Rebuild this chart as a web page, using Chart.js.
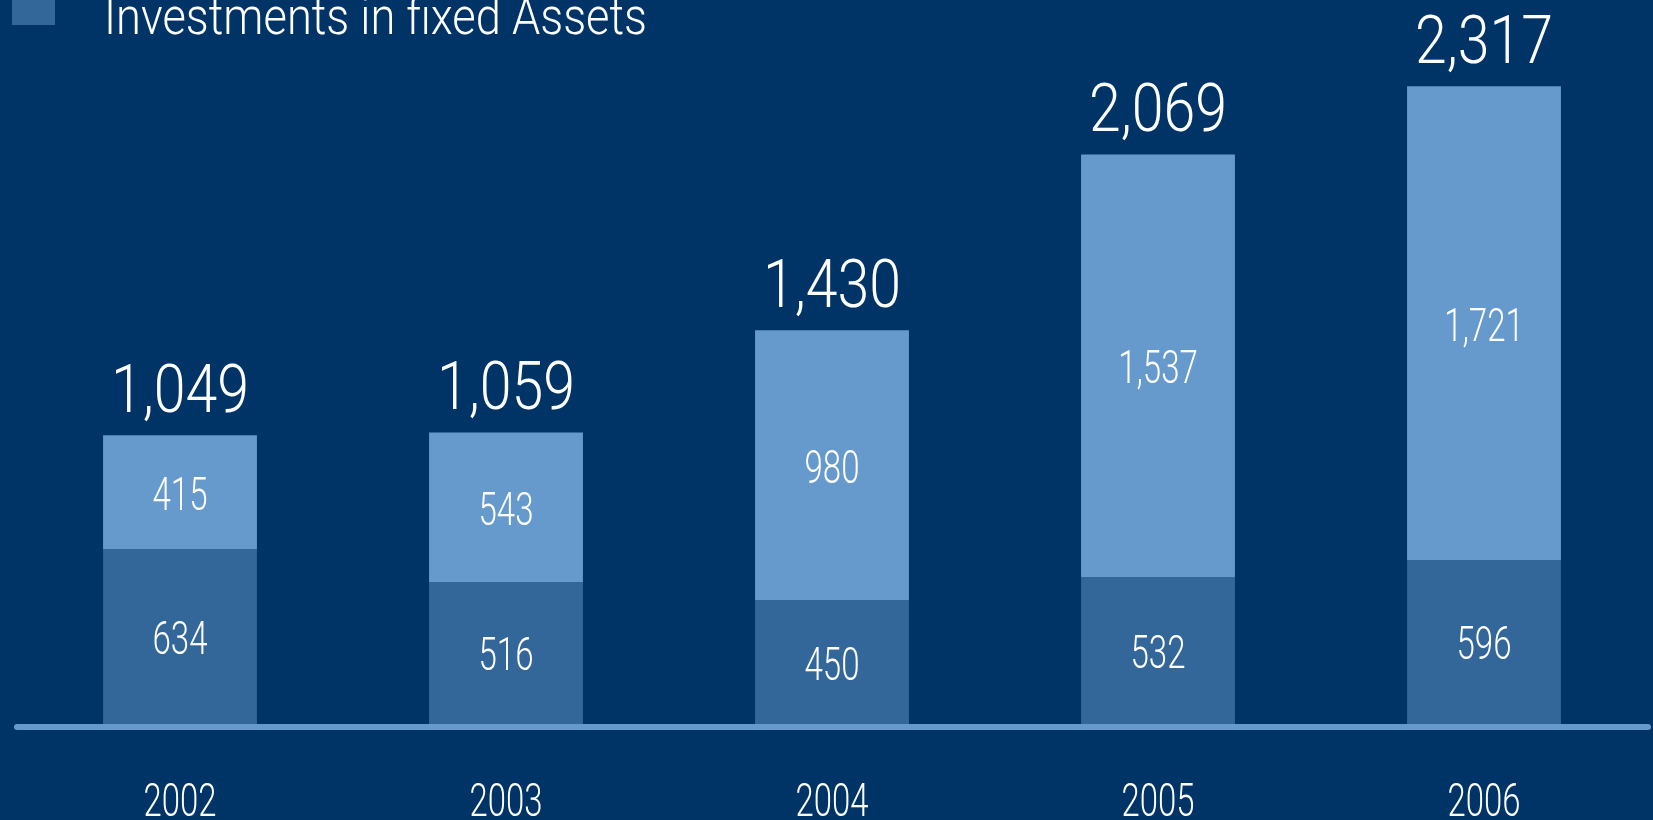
<html>
<head>
  <title>Investments in fixed Assets</title>
  <meta charset="UTF-8">
  <script src="https://cdn.jsdelivr.net/npm/chart.js"></script>
  <style>
    body { margin: 0; background: #003366; overflow: hidden; }
    canvas { display: block; }
  </style>
</head>
<body>
  <canvas id="invest-chart" width="1653" height="820"></canvas>
  <script>
    // values
    const years = ['2002', '2003', '2004', '2005', '2006'];
    const fixedAssets = [634, 516, 450, 532, 596];
    const otherInvest = [415, 543, 980, 1537, 1721];
    const legendText = 'Investments in fixed Assets';

    const darkBlue = '#336699';
    const lightBlue = '#6699cc';
    const fontName = 'Roboto';

    // draw a text squeezed horizontally so it looks like a condensed face
    function squeezed(ctx, str, x, y, font, targetW, refStr) {
      ctx.save();
      ctx.font = font;
      const sx = targetW / ctx.measureText(refStr || str).width;
      ctx.translate(x, y);
      ctx.scale(sx, 1);
      ctx.fillText(str, 0, 0);
      ctx.restore();
    }

    const labelsPlugin = {
      id: 'labelsPlugin',
      afterDatasetsDraw(chart) {
        const ctx = chart.ctx;
        const xs = chart.scales.x;
        const area = chart.chartArea;

        // base line under the bars
        ctx.save();
        ctx.strokeStyle = lightBlue;
        ctx.lineWidth = 6;
        ctx.lineCap = 'round';
        ctx.beginPath();
        ctx.moveTo(xs.left, area.bottom + 3);
        ctx.lineTo(xs.right + 1, area.bottom + 3);
        ctx.stroke();
        ctx.restore();

        ctx.save();
        ctx.fillStyle = '#ffffff';
        ctx.textAlign = 'center';
        ctx.textBaseline = 'middle';

        // values inside the segments
        chart.data.datasets.forEach((ds, di) => {
          const meta = chart.getDatasetMeta(di);
          meta.data.forEach((bar, i) => {
            const mid = (bar.y + bar.base) / 2;
            squeezed(ctx, ds.data[i].toLocaleString('en-US'), bar.x, mid + 6, '300 46px ' + fontName, 55, '415');
          });
        });

        // totals above the bars
        ctx.textBaseline = 'alphabetic';
        const top = chart.getDatasetMeta(chart.data.datasets.length - 1);
        top.data.forEach((bar, i) => {
          const total = chart.data.datasets.reduce((s, ds) => s + ds.data[i], 0);
          squeezed(ctx, total.toLocaleString('en-US'), bar.x, bar.y - 23, '300 66px ' + fontName, 138, '2,317');
        });

        // year labels
        chart.data.labels.forEach((lab, i) => {
          squeezed(ctx, lab, xs.getPixelForValue(i), 816, '300 46px ' + fontName, 73, '2002');
        });

        // legend (only the fixed assets entry is visible)
        const ds0 = chart.data.datasets[0];
        ctx.fillStyle = ds0.backgroundColor;
        ctx.fillRect(12, -10, 43, 35);
        ctx.fillStyle = '#ffffff';
        ctx.textAlign = 'left';
        squeezed(ctx, ds0.label, 104, 34, '300 52px ' + fontName, 543);
        ctx.restore();
      }
    };

    new Chart(document.getElementById('invest-chart').getContext('2d'), {
      type: 'bar',
      data: {
        labels: years,
        datasets: [
          {
            label: legendText,
            data: fixedAssets,
            backgroundColor: darkBlue,
            borderWidth: 0
          },
          {
            label: 'Other investments',
            data: otherInvest,
            backgroundColor: lightBlue,
            borderWidth: 0
          }
        ]
      },
      options: {
        responsive: false,
        devicePixelRatio: 1,
        animation: false,
        layout: { padding: { left: 17, right: 6, top: 0, bottom: 96 } },
        plugins: {
          legend: { display: false },
          tooltip: { enabled: false }
        },
        datasets: {
          bar: { categoryPercentage: 1, barPercentage: 0.472 }
        },
        scales: {
          x: {
            stacked: true,
            display: false
          },
          y: {
            stacked: true,
            display: false,
            min: 0,
            max: 2630
          }
        }
      },
      plugins: [labelsPlugin]
    });
  </script>
</body>
</html>
